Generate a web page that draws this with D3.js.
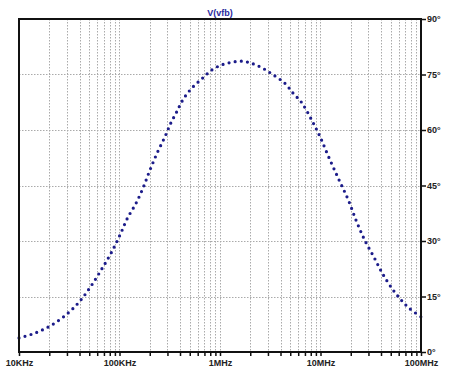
<!DOCTYPE html>
<html><head><meta charset="utf-8">
<script src="https://cdn.jsdelivr.net/npm/d3@7"></script>
<style>
html,body{margin:0;padding:0;background:#fff;}
svg{display:block;font-family:"Liberation Sans",Arial,sans-serif;}
</style></head>
<body>
<svg id="c" width="450" height="378"></svg>
<script>
// Data (frequency in Hz, phase in degrees)
const freqs = [10e3,14.4e3,21.2e3,30.7e3,40.5e3,52e3,66.5e3,82.3e3,101e3,119.6e3,146e3,172.5e3,201e3,238e3,283.6e3,323e3,371e3,426e3,523e3,658e3,826e3,1.04e6,1.31e6,1.64e6,2.07e6,2.66e6,3.39e6,4.43e6,5.36e6,6.5e6,8.17e6,9.89e6,12.2e6,15.3e6,18.9e6,22.9e6,27.7e6,34.1e6,41.6e6,52.3e6,62.8e6,76.6e6,100e6];
const phase = [3.8,5.1,7.3,10.5,13.8,17.8,22.4,26.7,31.6,36.1,40.2,44.5,49.2,53.9,58.2,61.8,64.9,68.1,71.3,73.8,76.2,77.6,78.3,78.6,78.0,76.7,74.9,72.6,69.9,67.4,62.7,58.2,52.4,46.5,41.1,35.2,30.1,25.6,21.1,16.9,14.2,11.8,9.5];
const xTickValues = [1e4,1e5,1e6,1e7,1e8];
const xTickLabels = ["10KHz","100KHz","1MHz","10MHz","100MHz"];
const yTickValues = [0,15,30,45,60,75,90];
const yTickLabels = ["0°","15°","30°","45°","60°","75°","90°"];
const title = "V(vfb)";

const svg = d3.select("#c");
const L=19, R=421, T=19, B=352;
const x = d3.scaleLog().domain([1e4,1e8]).range([L,R]);
const y = d3.scaleLinear().domain([0,90]).range([B,T]);

// minor positions
const minor = [];
for (let d=1e4; d<1e8; d*=10) for (let k=1;k<=9;k++) minor.push(d*k);
minor.push(1e8);

const grid = svg.append("g");
grid.selectAll("line.v").data(minor.filter(v=>v>1e4 && v<1e8)).join("line")
  .attr("x1",d=>Math.round(x(d))+0.5).attr("x2",d=>Math.round(x(d))+0.5)
  .attr("y1",T).attr("y2",B)
  .attr("stroke","#aaa").attr("stroke-width",1).attr("stroke-dasharray","1.5,1.5");
grid.selectAll("line.h").data(yTickValues.filter(v=>v>0 && v<90)).join("line")
  .attr("x1",L).attr("x2",R)
  .attr("y1",d=>Math.round(y(d))+0.5).attr("y2",d=>Math.round(y(d))+0.5)
  .attr("stroke","#aaa").attr("stroke-width",1).attr("stroke-dasharray","1.5,1.5");

// curve
const pts = freqs.map((f,i)=>[f,phase[i]]);
const line = d3.line().x(d=>x(d[0])).y(d=>y(d[1])).curve(d3.curveCatmullRom);
svg.append("path").datum(pts).attr("d",line)
  .attr("fill","none").attr("stroke","#1c1c8a").attr("stroke-width",3.2)
  .attr("stroke-linecap","round").attr("stroke-dasharray","0 6.2");

// frame
svg.append("rect").attr("x",L).attr("y",T).attr("width",R-L).attr("height",B-T)
  .attr("fill","none").attr("stroke","#111").attr("stroke-width",2);

// bottom axis
const xAxis = d3.axisBottom(x).tickValues(minor).tickSize(4).tickFormat((d)=>{
  const i = xTickValues.findIndex(v=>Math.abs(v-d)/v<1e-6);
  return i>=0 ? xTickLabels[i] : "";
});
const gx = svg.append("g").attr("transform",`translate(0,${B})`).call(xAxis);
gx.select(".domain").remove();
gx.selectAll(".tick line").attr("stroke","#111").attr("stroke-width",1.5);
gx.selectAll(".tick text").attr("font-size",9).attr("font-weight","bold").attr("fill","#222").attr("y",8).attr("dy","0.71em");

// right axis
const yAxis = d3.axisRight(y).tickValues(yTickValues).tickSize(5).tickFormat((d,i)=>yTickLabels[i]);
const gy = svg.append("g").attr("transform",`translate(${R},0)`).call(yAxis);
gy.select(".domain").remove();
gy.selectAll(".tick line").attr("stroke","#111").attr("stroke-width",1.5);
gy.selectAll(".tick text").attr("font-size",9).attr("font-weight","bold").attr("fill","#222").attr("x",6)
  .attr("dy","0.32em");

// title
svg.append("text").attr("x",220).attr("y",16).attr("text-anchor","middle")
  .attr("font-size",9).attr("font-weight","bold").attr("fill","#2a2aa0").text(title);
</script>
</body></html>
